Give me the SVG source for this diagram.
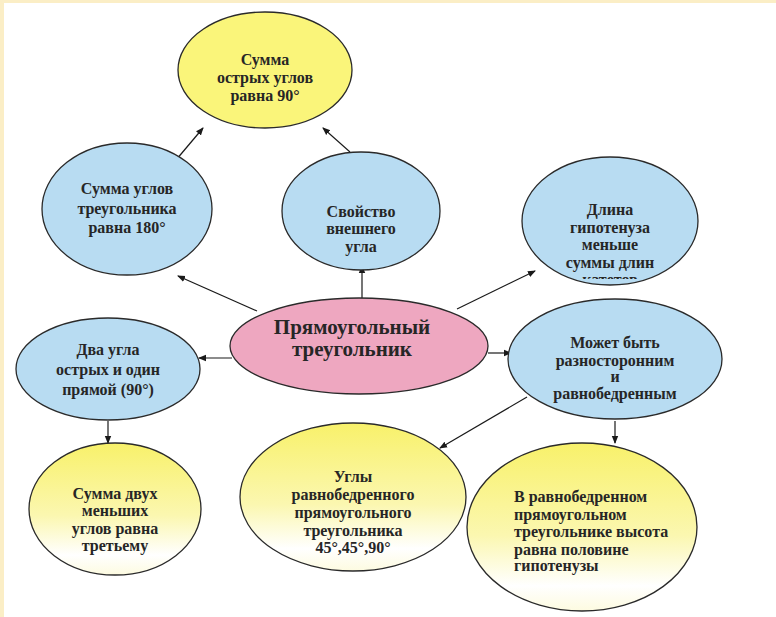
<svg xmlns="http://www.w3.org/2000/svg" width="776" height="617" viewBox="0 0 776 617">
<defs>
<style>
.n{stroke:#2a2a2a;stroke-width:1.3}
.y{fill:#faf57a}
.b{fill:#b8dcf2}
.p{fill:#eea7c0}
.g{fill:url(#yg)}
.t{font-family:'Liberation Serif','DejaVu Serif',serif;font-weight:bold;font-size:16px;fill:#262626;text-anchor:middle}
.tl{text-anchor:start}
.big{font-size:21px}
.c{stroke:#1a1a1a;stroke-width:1.2;fill:none;marker-end:url(#ar)}
</style>
<linearGradient id="yg" x1="0" y1="0" x2="0" y2="1">
<stop offset="0" stop-color="#f8f16a"/>
<stop offset="0.55" stop-color="#fbf7b0"/>
<stop offset="0.85" stop-color="#ffffff"/>
<stop offset="1" stop-color="#fdfbe0"/>
</linearGradient>
<marker id="ar" markerWidth="8" markerHeight="8" refX="7" refY="4" orient="auto" markerUnits="userSpaceOnUse">
<path d="M0,0.8 L8,4 L0,7.2 Z" fill="#1a1a1a"/>
</marker>
<clipPath id="clipK"><rect x="520" y="150" width="180" height="129"/></clipPath>
</defs>
<rect x="0" y="0" width="776" height="617" fill="#ffffff"/>
<rect x="0" y="0" width="776" height="3" fill="#fbeec6"/>
<rect x="0" y="0" width="4" height="617" fill="#fbeec6"/>

<g id="connectors">
<path class="c" d="M176,160 L203,128"/>
<path class="c" d="M350,152 L323,128"/>
<path class="c" d="M257,311 L178,276"/>
<path class="c" d="M362,298 L362,266"/>
<path class="c" d="M457,309 L535,271"/>
<path class="c" d="M232,358 L199,358"/>
<path class="c" d="M488,353 L511,353"/>
<path class="c" d="M527,397 L440,448"/>
<path class="c" d="M615,421 L615,443"/>
<path class="c" d="M108,421 L108,443"/>
</g>

<g id="n-sum90">
<ellipse class="n y" cx="265" cy="70" rx="87" ry="58"/>
<text class="t" x="265" y="65">Сумма</text>
<text class="t" x="265" y="83">острых углов</text>
<text class="t" x="265" y="101">равна 90°</text>
</g>

<g id="n-sum180">
<ellipse class="n b" cx="127" cy="209" rx="85" ry="66"/>
<text class="t" x="127" y="194">Сумма углов</text>
<text class="t" x="127" y="214">треугольника</text>
<text class="t" x="127" y="233">равна 180°</text>
</g>

<g id="n-ext">
<ellipse class="n b" cx="361" cy="211" rx="79" ry="59"/>
<text class="t" x="361" y="217">Свойство</text>
<text class="t" x="361" y="234">внешнего</text>
<text class="t" x="361" y="252">угла</text>
</g>

<g id="n-hyp">
<ellipse class="n b" cx="610" cy="221" rx="88" ry="64"/>
<text class="t" x="610" y="215">Длина</text>
<text class="t" x="610" y="233">гипотенуза</text>
<text class="t" x="610" y="250">меньше</text>
<text class="t" x="610" y="268">суммы длин</text>
<text class="t" x="610" y="285" clip-path="url(#clipK)">катетов</text>
</g>

<g id="n-main">
<ellipse class="n p" cx="359" cy="346" rx="129" ry="48"/>
<text class="t big" x="352" y="334">Прямоугольный</text>
<text class="t big" x="352" y="356">треугольник</text>
</g>

<g id="n-two">
<ellipse class="n b" cx="108" cy="369" rx="92" ry="51"/>
<text class="t" x="108" y="355">Два угла</text>
<text class="t" x="108" y="375">острых и один</text>
<text class="t" x="108" y="395">прямой (90°)</text>
</g>

<g id="n-may">
<ellipse class="n b" cx="615" cy="359" rx="107" ry="60"/>
<text class="t" x="615" y="348">Может быть</text>
<text class="t" x="615" y="366">разносторонним</text>
<text class="t" x="615" y="382">и</text>
<text class="t" x="615" y="399">равнобедренным</text>
</g>

<g id="n-sumtwo">
<ellipse class="n g" cx="115" cy="509" rx="86" ry="66"/>
<text class="t" x="115" y="499">Сумма двух</text>
<text class="t" x="115" y="516">меньших</text>
<text class="t" x="115" y="534">углов равна</text>
<text class="t" x="115" y="551">третьему</text>
</g>

<g id="n-angles">
<ellipse class="n g" cx="353" cy="497" rx="113" ry="74"/>
<text class="t" x="353" y="482">Углы</text>
<text class="t" x="353" y="500">равнобедренного</text>
<text class="t" x="353" y="518">прямоугольного</text>
<text class="t" x="353" y="536">треугольника</text>
<text class="t" x="353" y="553">45°,45°,90°</text>
</g>

<g id="n-height">
<ellipse class="n g" cx="582" cy="527" rx="115" ry="84"/>
<text class="t tl" x="514" y="502">В равнобедренном</text>
<text class="t tl" x="514" y="520">прямоугольном</text>
<text class="t tl" x="514" y="537">треугольнике высота</text>
<text class="t tl" x="514" y="555">равна половине</text>
<text class="t tl" x="514" y="571">гипотенузы</text>
</g>
</svg>
